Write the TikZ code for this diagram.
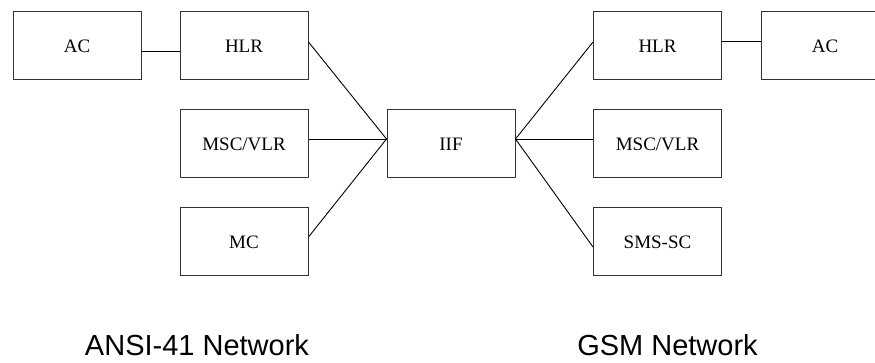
\documentclass[tikz,border=0pt]{standalone}
\usepackage{fontspec}
\setmainfont{Liberation Serif}
\newfontfamily\netfont{Liberation Sans}
\tikzset{%
  netbox/.style   = {shape=rectangle, draw=black!80, line width=1pt,%
                     minimum width=128pt, minimum height=68pt,%
                     inner sep=0pt, font=\fontsize{19}{22}\selectfont},%
  netlink/.style  = {draw=black, line width=0.9pt},%
  netlabel/.style = {anchor=base, inner sep=0pt,%
                     font=\netfont\fontsize{29}{32}\selectfont}%
}
\begin{document}
\begin{tikzpicture}[x=1pt,y=-1pt]
		\useasboundingbox (0,0) rectangle (875,363);
		\node [netbox] (acA)  at (77,46)    {AC};
		\node [netbox] (hlrA) at (244,46)   {HLR};
		\node [netbox] (mscA) at (244,144)  {MSC/VLR};
		\node [netbox] (mcA)  at (244,242)  {MC};
		\node [netbox] (iif)  at (451,144)  {IIF};
		\node [netbox] (hlrB) at (657.5,46)  {HLR};
		\node [netbox] (mscB) at (657.5,144) {MSC/VLR};
		\node [netbox] (smsB) at (657.5,242) {SMS-SC};
		\node [netbox] (acB)  at (825,46)   {AC};
		\draw [netlink] ([yshift=-5pt]acA.east) -- ([yshift=-5pt]hlrA.west);
		\draw [netlink] ([yshift=5pt]hlrB.east) -- ([yshift=5pt]acB.west);
		\draw [netlink] ([yshift=4pt]hlrA.east) -- ([yshift=5pt]iif.west);
		\draw [netlink] ([yshift=5pt]mscA.east) -- ([yshift=5pt]iif.west);
		\draw [netlink] ([yshift=5pt]mcA.east) -- ([yshift=5pt]iif.west);
		\draw [netlink] ([yshift=5pt]iif.east) -- ([yshift=4pt]hlrB.west);
		\draw [netlink] ([yshift=5pt]iif.east) -- ([yshift=5pt]mscB.west);
		\draw [netlink] ([yshift=5pt]iif.east) -- ([yshift=-5pt]smsB.west);
		\node [netlabel] (ansi) at (197,355)   {ANSI-41 Network};
		\node [netlabel] (gsm)  at (667.5,355) {GSM Network};
\end{tikzpicture}
\end{document}
